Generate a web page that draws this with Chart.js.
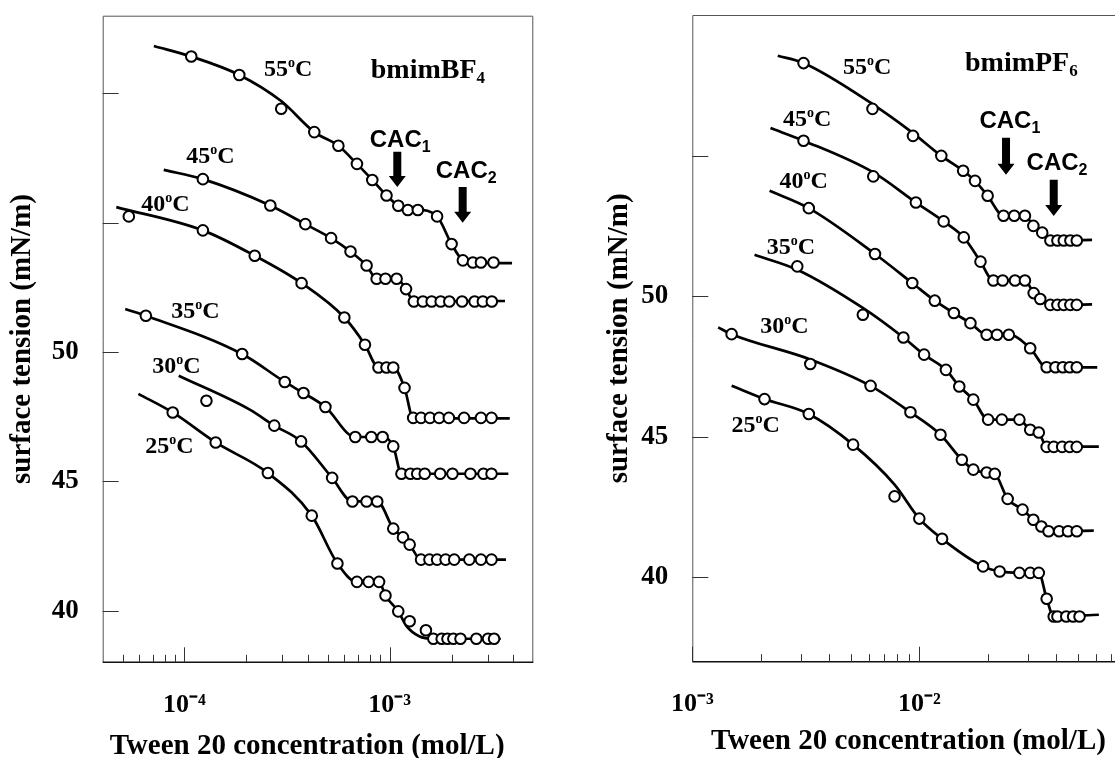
<!DOCTYPE html>
<html><head><meta charset="utf-8">
<script src="https://cdn.jsdelivr.net/npm/chart.js@4.4.1/dist/chart.umd.min.js"></script>
<style>
html,body{margin:0;padding:0;background:#fff;overflow:hidden;width:1115px;height:758px;}
#wl{position:absolute;left:0;top:0;width:560px;height:758px;}
#wr{position:absolute;left:560px;top:0;width:600px;height:758px;}
</style></head><body>
<div id="wl"><canvas id="cl" width="560" height="758"></canvas></div>
<div id="wr"><canvas id="cr" width="600" height="758"></canvas></div>
<script>
// ---------------- bmimBF4 panel data (concentration mol/L, surface tension mN/m) ----------------
const temps = ['55','45','40','35','30','25'];

const bf4_55_conc = [1.08e-4,1.85e-4,2.96e-4,4.29e-4,5.62e-4,6.92e-4,8.22e-4,9.64e-4,1.10e-3,1.225e-3,1.37e-3,1.70e-3,2.00e-3,2.27e-3,2.54e-3,2.78e-3,3.20e-3];
const bf4_55_st   = [61.42,60.71,59.40,58.50,57.97,57.27,56.65,56.05,55.65,55.49,55.49,55.24,54.17,53.54,53.46,53.46,53.46];
const bf4_55_fitConc = [7.10e-5,1.08e-4,1.85e-4,2.96e-4,4.29e-4,5.62e-4,6.92e-4,8.22e-4,9.64e-4,1.10e-3,1.225e-3,1.37e-3,1.70e-3,2.00e-3,2.27e-3,2.54e-3,3.94e-3];
const bf4_55_fitSt   = [61.83,61.42,60.71,59.70,58.50,57.97,57.27,56.65,56.05,55.65,55.49,55.49,55.24,54.17,53.54,53.46,53.43];

const bf4_45_conc = [1.23e-4,2.62e-4,3.88e-4,5.18e-4,6.44e-4,7.71e-4,8.63e-4,9.53e-4,1.08e-3,1.20e-3,1.31e-3,1.45e-3,1.60e-3,1.77e-3,1.95e-3,2.25e-3,2.59e-3,2.84e-3,3.14e-3];
const bf4_45_st   = [56.68,55.66,54.94,54.40,53.88,53.34,52.83,52.83,52.83,52.43,51.95,51.95,51.95,51.95,51.95,51.95,51.95,51.95,51.95];
const bf4_45_fitConc = [7.93e-5,1.23e-4,2.62e-4,3.88e-4,5.18e-4,6.44e-4,7.71e-4,8.63e-4,9.53e-4,1.08e-3,1.20e-3,1.31e-3,3.64e-3];
const bf4_45_fitSt   = [57.04,56.68,55.66,54.94,54.40,53.88,53.34,52.83,52.83,52.83,52.43,51.95,51.97];

const bf4_40_conc = [5.36e-5,1.23e-4,2.20e-4,3.72e-4,6.01e-4,7.57e-4,8.81e-4,9.64e-4,1.04e-3,1.18e-3,1.30e-3,1.42e-3,1.57e-3,1.74e-3,1.94e-3,2.30e-3,2.78e-3,3.13e-3];
const bf4_40_st   = [55.24,54.70,53.72,52.66,51.33,50.28,49.40,49.40,49.40,48.61,47.45,47.45,47.45,47.45,47.45,47.45,47.45,47.45];
const bf4_40_fitConc = [4.66e-5,1.23e-4,2.20e-4,3.72e-4,6.01e-4,7.57e-4,8.81e-4,9.64e-4,1.04e-3,1.18e-3,1.30e-3,3.84e-3];
const bf4_40_fitSt   = [55.60,54.70,53.72,52.66,51.33,50.28,49.40,49.40,49.40,48.61,47.45,47.43];

const bf4_35_conc = [6.49e-5,1.91e-4,3.08e-4,3.80e-4,4.86e-4,6.79e-4,8.13e-4,9.23e-4,1.04e-3,1.14e-3,1.26e-3,1.36e-3,1.48e-3,1.76e-3,2.02e-3,2.47e-3,2.86e-3,3.13e-3];
const bf4_35_st   = [51.40,49.92,48.84,48.41,47.87,46.71,46.71,46.71,46.35,45.29,45.29,45.29,45.29,45.29,45.29,45.29,45.29,45.29];
const bf4_35_fitConc = [5.15e-5,6.49e-5,1.91e-4,3.08e-4,3.80e-4,4.86e-4,6.79e-4,8.13e-4,9.23e-4,1.04e-3,1.14e-3,3.78e-3];
const bf4_35_fitSt   = [51.66,51.40,49.92,48.84,48.41,47.87,46.71,46.71,46.71,46.35,45.29,45.29];

const bf4_30_conc = [1.28e-4,2.74e-4,3.70e-4,5.24e-4,6.58e-4,7.71e-4,8.69e-4,1.04e-3,1.16e-3,1.25e-3,1.42e-3,1.56e-3,1.70e-3,1.87e-3,2.06e-3,2.44e-3,2.78e-3,3.13e-3];
const bf4_30_st   = [48.11,47.15,46.54,45.13,44.22,44.22,44.22,43.17,42.83,42.55,41.97,41.97,41.97,41.97,41.97,41.97,41.97,41.97];
const bf4_30_fitConc = [9.38e-5,2.08e-4,2.74e-4,3.70e-4,5.24e-4,6.58e-4,7.71e-4,8.69e-4,1.04e-3,1.16e-3,1.25e-3,1.42e-3,3.68e-3];
const bf4_30_fitSt   = [49.08,47.77,47.15,46.54,45.13,44.22,44.22,44.22,43.17,42.83,42.55,41.97,41.97];

const bf4_25_conc = [8.77e-5,1.42e-4,2.55e-4,4.17e-4,5.56e-4,6.92e-4,7.89e-4,8.87e-4,9.53e-4,1.10e-3,1.25e-3,1.50e-3,1.63e-3,1.79e-3,1.91e-3,2.04e-3,2.21e-3,2.64e-3,3.01e-3,3.22e-3];
const bf4_25_st   = [47.66,46.50,45.32,43.67,41.82,41.11,41.11,41.11,40.58,39.97,39.59,39.24,38.91,38.91,38.91,38.91,38.91,38.91,38.91,38.91];
const bf4_25_fitConc = [5.97e-5,8.77e-5,1.42e-4,2.55e-4,4.17e-4,5.56e-4,6.92e-4,8.87e-4,9.53e-4,1.10e-3,1.21e-3,1.39e-3,1.63e-3,3.47e-3];
const bf4_25_fitSt   = [48.38,47.66,46.50,45.32,43.67,41.82,41.11,41.11,40.58,39.97,39.39,39.01,38.91,38.91];

// ---------------- bmimPF6 panel data ----------------
const pf6_55_conc = [3.09e-3,6.22e-3,9.38e-3,1.25e-2,1.56e-2,1.76e-2,2.00e-2,2.35e-2,2.62e-2,2.92e-2,3.18e-2,3.48e-2,3.78e-2,4.06e-2,4.33e-2,4.63e-2,4.94e-2];
const pf6_55_st   = [58.29,56.66,55.70,54.99,54.46,54.10,53.57,52.86,52.86,52.86,52.50,52.26,51.98,51.98,51.98,51.98,51.98];
const pf6_55_fitConc = [2.38e-3,3.09e-3,6.22e-3,9.38e-3,1.25e-2,1.56e-2,1.76e-2,2.00e-2,2.35e-2,2.62e-2,2.92e-2,3.18e-2,3.48e-2,3.78e-2,5.77e-2];
const pf6_55_fitSt   = [58.55,58.29,56.83,55.80,54.99,54.46,54.10,53.57,52.86,52.86,52.86,52.50,52.26,51.98,52.00];

const pf6_45_conc = [3.09e-3,6.27e-3,9.66e-3,1.28e-2,1.57e-2,1.86e-2,2.12e-2,2.33e-2,2.64e-2,2.92e-2,3.19e-2,3.41e-2,3.78e-2,4.06e-2,4.33e-2,4.63e-2,4.94e-2];
const pf6_45_st   = [55.53,54.26,53.33,52.66,52.09,51.23,50.56,50.56,50.56,50.56,50.11,49.90,49.69,49.69,49.69,49.69,49.69];
const pf6_45_fitConc = [2.21e-3,3.09e-3,6.27e-3,9.66e-3,1.28e-2,1.57e-2,1.86e-2,2.12e-2,2.33e-2,2.64e-2,2.92e-2,3.19e-2,3.41e-2,3.78e-2,5.77e-2];
const pf6_45_fitSt   = [55.98,55.53,54.40,53.33,52.66,52.09,51.23,50.56,50.56,50.56,50.56,50.11,49.90,49.69,49.71];

const pf6_40_conc = [3.26e-3,6.38e-3,9.31e-3,1.17e-2,1.42e-2,1.68e-2,1.98e-2,2.20e-2,2.48e-2,3.08e-2,3.64e-2,3.98e-2,4.29e-2,4.60e-2,4.94e-2];
const pf6_40_st   = [53.13,51.50,50.47,49.84,49.40,49.04,48.63,48.63,48.63,48.15,47.47,47.47,47.47,47.47,47.47];
const pf6_40_fitConc = [2.19e-3,3.26e-3,6.38e-3,9.31e-3,1.17e-2,1.42e-2,1.68e-2,1.98e-2,2.20e-2,2.48e-2,3.08e-2,3.64e-2,6.08e-2];
const pf6_40_fitSt   = [53.75,53.13,51.50,50.47,49.84,49.40,49.04,48.63,48.63,48.63,48.15,47.47,47.47];

const pf6_35_conc = [2.90e-3,5.64e-3,8.51e-3,1.05e-2,1.31e-2,1.50e-2,1.73e-2,2.01e-2,2.31e-2,2.76e-2,3.08e-2,3.36e-2,3.64e-2,3.91e-2,4.26e-2,4.60e-2,4.94e-2];
const pf6_35_st   = [51.06,49.34,48.53,47.92,47.38,46.79,46.32,45.61,45.61,45.61,45.25,45.15,44.64,44.64,44.64,44.64,44.64];
const pf6_35_fitConc = [1.88e-3,2.90e-3,5.64e-3,8.51e-3,1.05e-2,1.31e-2,1.50e-2,1.73e-2,2.01e-2,2.31e-2,2.76e-2,3.08e-2,3.36e-2,3.64e-2,6.18e-2];
const pf6_35_fitSt   = [51.47,50.94,49.58,48.53,47.92,47.38,46.79,46.32,45.61,45.61,45.61,45.25,45.15,44.64,44.65];

const pf6_30_conc = [1.49e-3,3.31e-3,6.10e-3,9.14e-3,1.24e-2,1.54e-2,1.73e-2,1.98e-2,2.15e-2,2.45e-2,2.85e-2,3.18e-2,3.45e-2,3.71e-2,4.13e-2,4.52e-2,4.94e-2];
const pf6_30_st   = [48.65,47.59,46.81,45.87,45.07,44.18,43.83,43.73,43.68,42.79,42.41,42.05,41.81,41.64,41.64,41.64,41.64];
const pf6_30_fitConc = [1.30e-3,1.49e-3,3.31e-3,6.10e-3,9.14e-3,1.24e-2,1.54e-2,1.73e-2,1.98e-2,2.15e-2,2.45e-2,2.85e-2,3.18e-2,3.45e-2,3.71e-2,5.87e-2];
const pf6_30_fitSt   = [48.89,48.65,47.75,46.81,45.87,45.07,44.18,43.83,43.73,43.68,42.79,42.41,42.05,41.81,41.64,41.66];

const pf6_25_conc = [2.08e-3,3.26e-3,5.11e-3,7.78e-3,1.00e-2,1.26e-2,1.91e-2,2.26e-2,2.76e-2,3.08e-2,3.36e-2,3.64e-2,3.91e-2,4.06e-2,4.44e-2,4.76e-2,5.08e-2];
const pf6_25_st   = [46.34,45.81,44.72,42.88,42.09,41.37,40.39,40.21,40.16,40.16,40.16,39.24,38.61,38.61,38.61,38.61,38.61];
const pf6_25_fitConc = [1.49e-3,2.08e-3,3.26e-3,5.11e-3,7.78e-3,1.00e-2,1.26e-2,1.91e-2,2.26e-2,2.76e-2,3.08e-2,3.36e-2,3.64e-2,3.91e-2,6.18e-2];
const pf6_25_fitSt   = [46.81,46.34,45.81,44.72,43.30,42.09,41.37,40.39,40.21,40.16,40.16,40.16,39.24,38.61,38.67];

// ---------------- tick values and labels ----------------
const bf4XTickValues = [5e-5,6e-5,7e-5,8e-5,9e-5,1e-4,2e-4,3e-4,4e-4,5e-4,6e-4,7e-4,8e-4,9e-4,1e-3,2e-3,3e-3,4e-3];
const bf4XTickLabels = ['','','','','','10⁻⁴','','','','','','','','','10⁻³','','',''];
const pf6XTickValues = [1e-3,2e-3,3e-3,4e-3,5e-3,6e-3,7e-3,8e-3,9e-3,1e-2,2e-2,3e-2,4e-2,5e-2,6e-2,7e-2,8e-2,9e-2];
const pf6XTickLabels = ['10⁻³','','','','','','','','','10⁻²','','','','','','','',''];
const bf4YTickValues = [40,45,50,55,60];
const bf4YTickLabels = ['40','45','50','',''];
const pf6YTickValues = [40,45,50,55];
const pf6YTickLabels = ['40','45','50',''];

// ---------------- annotation anchors (data units) ----------------
const bf4TempLabelConc = [2.44e-4,1.02e-4,6.16e-5,8.62e-5,6.97e-5,6.44e-5];
const bf4TempLabelSt   = [60.67,57.31,55.46,51.32,49.20,46.11];
const bf4NameAt = [8.08e-4,60.60];
const bf4CacLabelConc = [7.99e-4,1.675e-3];
const bf4CacLabelSt   = [57.93,56.73];
const bf4ArrowConc = [1.088e-3,2.265e-3];
const bf4ArrowTop  = [57.74,56.38];
const bf4ArrowTip  = [56.38,54.99];

const pf6TempLabelConc = [4.61e-3,2.51e-3,2.42e-3,2.13e-3,1.99e-3,1.49e-3];
const pf6TempLabelSt   = [57.91,56.06,53.85,51.51,48.70,45.18];
const pf6NameAt = [1.59e-2,58.01];
const pf6CacLabelConc = [1.84e-2,2.97e-2];
const pf6CacLabelSt   = [55.99,54.49];
const pf6ArrowConc = [2.41e-2,3.91e-2];
const pf6ArrowTop  = [55.63,54.14];
const pf6ArrowTip  = [54.32,52.85];

// ---------------- helpers ----------------
const SERIF = '"Liberation Serif","Times New Roman",serif';
const SANS = '"Liberation Sans",Arial,sans-serif';
const pts = (xs, ys) => xs.map((x, i) => ({x: x, y: ys[i]}));

function drawRich(ctx, parts, x, y) {
  let cx = x;
  ctx.textAlign = 'left';
  ctx.textBaseline = 'alphabetic';
  for (const p of parts) {
    ctx.font = p.font;
    ctx.fillText(p.t, cx, y + (p.dy || 0));
    cx += ctx.measureText(p.t).width;
  }
}
function drawArrow(ctx, x, yTop, yTip) {
  const sw = 4, hw = 8.5, hh = 11;
  ctx.beginPath();
  ctx.moveTo(x - sw, yTop); ctx.lineTo(x + sw, yTop); ctx.lineTo(x + sw, yTip - hh);
  ctx.lineTo(x + hw, yTip - hh); ctx.lineTo(x, yTip); ctx.lineTo(x - hw, yTip - hh);
  ctx.lineTo(x - sw, yTip - hh); ctx.closePath(); ctx.fill();
}

function makePlugin(ann) {
  return {
    id: 'frameAndNotes',
    beforeDatasetsDraw(chart) {
      const {ctx, chartArea: a, scales: {x, y}} = chart;
      ctx.save();
      ctx.strokeStyle = '#555'; ctx.lineWidth = 1;
      ctx.beginPath();
      ctx.moveTo(a.left + 0.5, a.bottom); ctx.lineTo(a.left + 0.5, a.top + 0.5);
      ctx.lineTo(a.right - 0.5, a.top + 0.5); ctx.lineTo(a.right - 0.5, a.bottom);
      ctx.stroke();
      ctx.strokeStyle = '#111'; ctx.lineWidth = 1.6;
      ctx.beginPath(); ctx.moveTo(a.left, a.bottom); ctx.lineTo(a.right, a.bottom); ctx.stroke();
      ctx.strokeStyle = '#333'; ctx.lineWidth = 1;
      x.ticks.forEach(t => {
        const px = Math.round(x.getPixelForValue(t.value)) + 0.5;
        const len = t.major ? 15 : 7.5;
        ctx.beginPath(); ctx.moveTo(px, a.bottom); ctx.lineTo(px, a.bottom - len); ctx.stroke();
      });
      y.ticks.forEach(t => {
        const py = Math.round(y.getPixelForValue(t.value)) + 0.5;
        ctx.beginPath(); ctx.moveTo(a.left, py); ctx.lineTo(a.left + 16, py); ctx.stroke();
      });
      ctx.restore();
    },
    afterDatasetsDraw(chart) {
      const {ctx, scales: {x, y}} = chart;
      ctx.save();
      ctx.fillStyle = '#000';
      temps.forEach((t, i) => {
        drawRich(ctx, [
          {t: t, font: 'bold 24px ' + SERIF},
          {t: 'o', font: 'bold 14px ' + SERIF, dy: -9},
          {t: 'C', font: 'bold 24px ' + SERIF}
        ], x.getPixelForValue(ann.tempX[i]), y.getPixelForValue(ann.tempY[i]));
      });
      drawRich(ctx, [
        {t: ann.name, font: 'bold 28px ' + SERIF},
        {t: ann.nameSub, font: 'bold 17px ' + SERIF, dy: 5}
      ], x.getPixelForValue(ann.nameAt[0]), y.getPixelForValue(ann.nameAt[1]));
      ['1', '2'].forEach((s, i) => {
        drawRich(ctx, [
          {t: 'CAC', font: 'bold 24px ' + SANS},
          {t: s, font: 'bold 16px ' + SANS, dy: 5}
        ], x.getPixelForValue(ann.cacX[i]), y.getPixelForValue(ann.cacY[i]));
        drawArrow(ctx, x.getPixelForValue(ann.arrowX[i]), y.getPixelForValue(ann.arrowTop[i]), y.getPixelForValue(ann.arrowTip[i]));
      });
      ctx.restore();
    }
  };
}

function makeChart(id, cfg) {
  const datasets = [];
  cfg.series.forEach(s => {
    datasets.push({
      data: pts(s.fx, s.fy), showLine: true, borderColor: '#000', borderWidth: 2.7,
      pointRadius: 0, cubicInterpolationMode: 'monotone', fill: false, order: 2
    });
    datasets.push({
      data: pts(s.x, s.y), showLine: false, pointRadius: 5.3, pointBorderWidth: 2,
      pointBorderColor: '#000', pointBackgroundColor: '#fff', order: 1
    });
  });
  return new Chart(document.getElementById(id), {
    type: 'scatter',
    data: {datasets: datasets},
    options: {
      responsive: false, animation: false, events: [],
      layout: {autoPadding: false, padding: {top: cfg.padTop, right: cfg.padRight, left: 0, bottom: 0}},
      plugins: {legend: {display: false}, tooltip: {enabled: false}},
      scales: {
        x: {
          type: 'logarithmic', min: cfg.xMin, max: cfg.xMax,
          grid: {display: false}, border: {display: false},
          afterBuildTicks: sc => { sc.ticks = cfg.xTicks.map((v, i) => ({value: v, major: cfg.xLabels[i] !== ''})); },
          afterFit: sc => { sc.height = cfg.xHeight; sc.paddingLeft = 0; sc.paddingRight = 0; },
          ticks: {
            autoSkip: false, maxRotation: 0, minRotation: 0, padding: 19, color: '#000',
            font: {family: SERIF, weight: 'bold', size: 26},
            callback: (v, i) => cfg.xLabels[i]
          },
          title: {
            display: true, text: 'Tween 20 concentration (mol/L)   ', color: '#000',
            font: {family: SERIF, weight: 'bold', size: 29, lineHeight: cfg.xTitleLH},
            padding: 0
          }
        },
        y: {
          type: 'linear', min: cfg.yMin, max: cfg.yMax,
          grid: {display: false}, border: {display: false},
          afterBuildTicks: sc => { sc.ticks = cfg.yTicks.map(v => ({value: v})); },
          afterFit: sc => { sc.width = cfg.yWidth; sc.paddingTop = 0; sc.paddingBottom = 0; },
          ticks: {
            padding: 16, color: '#000',
            font: {family: SERIF, weight: 'bold', size: 27},
            callback: (v) => cfg.yLabels[cfg.yTicks.indexOf(v)]
          },
          title: {
            display: true, text: 'surface tension (mN/m)', color: '#000',
            font: {family: SERIF, weight: 'bold', size: 29},
            padding: {top: cfg.yTitlePad, bottom: 0}
          }
        }
      }
    },
    plugins: [makePlugin(cfg.ann)]
  });
}

makeChart('cl', {
  series: [
    {x: bf4_55_conc, y: bf4_55_st, fx: bf4_55_fitConc, fy: bf4_55_fitSt},
    {x: bf4_45_conc, y: bf4_45_st, fx: bf4_45_fitConc, fy: bf4_45_fitSt},
    {x: bf4_40_conc, y: bf4_40_st, fx: bf4_40_fitConc, fy: bf4_40_fitSt},
    {x: bf4_35_conc, y: bf4_35_st, fx: bf4_35_fitConc, fy: bf4_35_fitSt},
    {x: bf4_30_conc, y: bf4_30_st, fx: bf4_30_fitConc, fy: bf4_30_fitSt},
    {x: bf4_25_conc, y: bf4_25_st, fx: bf4_25_fitConc, fy: bf4_25_fitSt}
  ],
  xMin: 4e-5, xMax: 5e-3, yMin: 38, yMax: 63,
  xTicks: bf4XTickValues, xLabels: bf4XTickLabels,
  yTicks: bf4YTickValues, yLabels: bf4YTickLabels,
  padTop: 15.7, padRight: 26.7, yWidth: 102.7, xHeight: 95.7,
  xTitleLH: 0.78, yTitlePad: 4.8,
  ann: {tempX: bf4TempLabelConc, tempY: bf4TempLabelSt, name: 'bmimBF', nameSub: '4', nameAt: bf4NameAt,
        cacX: bf4CacLabelConc, cacY: bf4CacLabelSt, arrowX: bf4ArrowConc, arrowTop: bf4ArrowTop, arrowTip: bf4ArrowTip}
});

makeChart('cr', {
  series: [
    {x: pf6_55_conc, y: pf6_55_st, fx: pf6_55_fitConc, fy: pf6_55_fitSt},
    {x: pf6_45_conc, y: pf6_45_st, fx: pf6_45_fitConc, fy: pf6_45_fitSt},
    {x: pf6_40_conc, y: pf6_40_st, fx: pf6_40_fitConc, fy: pf6_40_fitSt},
    {x: pf6_35_conc, y: pf6_35_st, fx: pf6_35_fitConc, fy: pf6_35_fitSt},
    {x: pf6_30_conc, y: pf6_30_st, fx: pf6_30_fitConc, fy: pf6_30_fitSt},
    {x: pf6_25_conc, y: pf6_25_st, fx: pf6_25_fitConc, fy: pf6_25_fitSt}
  ],
  xMin: 1e-3, xMax: 1e-1, yMin: 37, yMax: 60,
  xTicks: pf6XTickValues, xLabels: pf6XTickLabels,
  yTicks: pf6YTickValues, yLabels: pf6YTickLabels,
  padTop: 15, padRight: 13.7, yWidth: 132.3, xHeight: 96.3,
  xTitleLH: 1.12, yTitlePad: 41.8,
  ann: {tempX: pf6TempLabelConc, tempY: pf6TempLabelSt, name: 'bmimPF', nameSub: '6', nameAt: pf6NameAt,
        cacX: pf6CacLabelConc, cacY: pf6CacLabelSt, arrowX: pf6ArrowConc, arrowTop: pf6ArrowTop, arrowTip: pf6ArrowTip}
});
</script>
</body></html>
